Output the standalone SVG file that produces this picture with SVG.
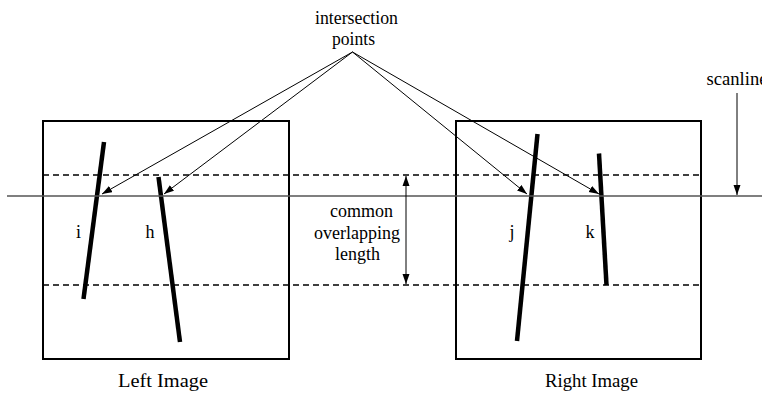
<svg xmlns="http://www.w3.org/2000/svg" width="762" height="393" viewBox="0 0 762 393">
<style>
.box{fill:none;stroke:#000;stroke-width:2}
.dash{stroke:#000;stroke-width:1.5;stroke-dasharray:6 4;fill:none}
.scan{stroke:#555;stroke-width:1.5}
.seg{stroke:#000;stroke-width:4.5;stroke-linecap:butt}
.arr{stroke:#000;stroke-width:1;fill:none;marker-end:url(#ah)}
.t{font-family:"Liberation Serif","Times New Roman",serif;font-size:18px;fill:#000}
</style>
<defs>
<marker id="ah" markerUnits="userSpaceOnUse" markerWidth="11" markerHeight="8" refX="10" refY="3.5" orient="auto">
<path d="M0,0 L10,3.5 L0,7 z" fill="#000"/>
</marker>
<marker id="ahs" markerUnits="userSpaceOnUse" markerWidth="11" markerHeight="8" refX="0" refY="3.5" orient="auto">
<path d="M10,0 L0,3.5 L10,7 z" fill="#000"/>
</marker>
</defs>
<g id="left-image">
<rect class="box" x="43" y="121" width="246" height="238"/>
<line class="seg" x1="104" y1="142" x2="83.5" y2="299"/>
<line class="seg" x1="158.5" y1="177" x2="180" y2="342"/>
<text class="t" x="78.5" y="238" text-anchor="middle">i</text>
<text class="t" x="150" y="238" text-anchor="middle">h</text>
<text class="t" x="118" y="387" textLength="90" lengthAdjust="spacingAndGlyphs">Left Image</text>
</g>
<g id="right-image">
<rect class="box" x="456" y="121" width="245" height="238"/>
<line class="seg" x1="537.5" y1="134" x2="517" y2="341"/>
<line class="seg" x1="599" y1="153.5" x2="606.5" y2="285"/>
<text class="t" x="512" y="238" text-anchor="middle">j</text>
<text class="t" x="590" y="238" text-anchor="middle">k</text>
<text class="t" x="545" y="387" textLength="93" lengthAdjust="spacingAndGlyphs">Right Image</text>
</g>
<g id="band">
<line class="dash" x1="43" y1="175" x2="702" y2="175"/>
<line class="dash" x1="43" y1="285" x2="702" y2="285"/>
</g>
<g id="scanline">
<line class="scan" x1="7" y1="196" x2="762" y2="196"/>
<text class="t" x="706.5" y="85" textLength="61" lengthAdjust="spacingAndGlyphs">scanline</text>
</g>
<g id="intersection-label">
<text class="t" x="315" y="24" textLength="83" lengthAdjust="spacingAndGlyphs">intersection</text>
<text class="t" x="332" y="45" textLength="43" lengthAdjust="spacingAndGlyphs">points</text>
</g>
<g id="overlap-label">
<text class="t" x="330" y="217" textLength="63" lengthAdjust="spacingAndGlyphs">common</text>
<text class="t" x="314" y="239" textLength="86" lengthAdjust="spacingAndGlyphs">overlapping</text>
<text class="t" x="335" y="260" textLength="45" lengthAdjust="spacingAndGlyphs">length</text>
</g>
<g id="connectors">
<line class="arr" x1="352.5" y1="52" x2="102" y2="194"/>
<line class="arr" x1="352.5" y1="52" x2="164" y2="194"/>
<line class="arr" x1="352.5" y1="52" x2="527" y2="194"/>
<line class="arr" x1="352.5" y1="52" x2="599" y2="194"/>
<line class="arr" x1="737" y1="93" x2="737" y2="195"/>
<line x1="406" y1="176" x2="406" y2="284" stroke="#000" stroke-width="1" marker-start="url(#ahs)" marker-end="url(#ah)"/>
</g>
</svg>
